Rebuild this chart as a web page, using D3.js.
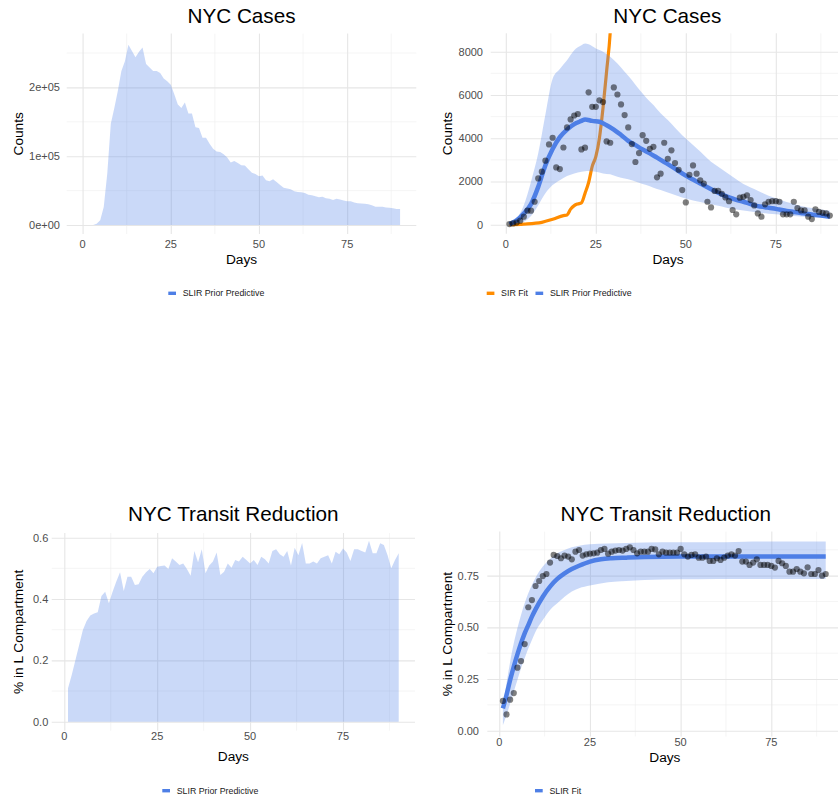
<!DOCTYPE html>
<html><head><meta charset="utf-8">
<script src="https://cdn.jsdelivr.net/npm/d3@7"></script>
<style>
body{margin:0;background:#fff}
svg{display:block}
text{font-family:"Liberation Sans",Arial,Helvetica,sans-serif}
</style>
</head><body>
<svg id="c" width="838" height="799"></svg>
<script>
// ---------------- DATA ----------------
const days = d3.range(1, 91);

// Top-left: NYC Cases prior predictive (upper envelope)
const casesPriorUpper = [0,0,0,2000,7000,26000,75000,147000,170000,195000,
 224000,238000,262000,253000,244000,252000,258000,234000,229000,224000,
 224000,221000,213000,209000,204000,190000,175000,170000,178000,162000,
 162000,142000,141000,127000,127000,118000,111000,107000,106000,103000,
 98000,91000,93000,90000,87000,86500,81000,76000,74000,71000,
 72000,65000,63500,66500,62500,58000,54000,53000,52000,49000,
 48000,47500,46600,43800,43300,41800,40400,40900,39000,38000,
 36500,38000,37000,35600,34600,34600,32700,31700,31300,30800,
 30300,28800,26400,26400,26400,25500,25000,24500,23100,23100];

// Top-right: observed cases
const casesObs = [30,60,100,185,370,650,650,1060,2140,2450,
 2960,3710,4020,2650,2570,3570,4500,4870,5050,5120,
 3480,3560,6120,5450,5450,5750,5670,3850,3790,6350,
 6020,5560,5070,4500,3730,2900,3310,4140,3880,3510,
 3600,2190,2360,3790,3050,3440,2850,2540,1600,1030,
 2310,2740,2360,2050,1900,1060,800,1560,1560,1430,
 1260,1090,680,480,1250,1290,1360,1140,890,520,
 370,940,1060,1090,1090,1060,480,480,480,1060,
 770,660,660,370,260,710,590,550,520,420];

const slirCaseDays = [1,3,5,7,9,11,13,15,17,19,21,22,24,26,28,30,32,34,36,38,40,42,44,46,48,50,52,54,56,58,60,62,64,66,68,70,72,74,76,78,80,82,84,86,88,90];
const slirCaseMed = [30,200,520,950,1750,2750,3500,4050,4400,4650,4800,4870,4800,4760,4600,4400,4150,3880,3680,3480,3300,3100,2900,2700,2480,2270,2090,1900,1730,1560,1400,1260,1150,1060,955,860,810,760,700,640,590,540,490,450,410,370];

const bandCaseDays = [1,3,5,7,9,11,13,15,17,19,21,22,23,25,27,29,31,33,35,37,39,41,43,45,47,49,51,53,55,57,59,61,63,65,67,69,71,73,75,77,79,81,83,85,87,90];
const bandCaseUpper = [30,290,900,1990,3300,5100,6750,7200,7600,8070,8300,8380,8340,8150,8000,7770,7460,7070,6690,6260,5870,5530,5150,4840,4480,4140,3840,3530,3220,2910,2680,2450,2220,1990,1800,1650,1490,1340,1220,1110,1000,910,830,770,710,650];
const bandCaseLower = [0,60,140,400,900,1450,1830,2060,2250,2370,2450,2470,2480,2450,2370,2330,2220,2140,2060,1940,1830,1710,1600,1490,1370,1260,1170,1090,1020,940,880,800,740,680,630,585,540,510,480,450,415,385,370,355,340,310];

const sirDays = [1,5,10,13,16,17,18,19,20,21,22,23,24,25,26,27,28,29,30];
const sirFit = [0,30,110,250,420,450,720,880,960,1010,1450,1950,2700,3150,4000,5400,7100,8900,12500];

// Bottom-left: transit prior predictive (upper envelope)
const transitPriorUpper = [0.109,0.152,0.201,0.25,0.299,0.328,0.346,0.353,0.357,0.41,
 0.424,0.386,0.424,0.457,0.487,0.426,0.473,0.473,0.446,0.448,
 0.473,0.487,0.498,0.484,0.505,0.508,0.509,0.498,0.533,0.522,
 0.511,0.516,0.498,0.476,0.557,0.52,0.562,0.484,0.509,0.522,
 0.552,0.478,0.489,0.516,0.502,0.527,0.522,0.538,0.527,0.516,
 0.527,0.511,0.538,0.53,0.516,0.557,0.562,0.546,0.538,0.557,
 0.509,0.567,0.543,0.583,0.516,0.516,0.522,0.516,0.533,0.538,
 0.543,0.516,0.554,0.546,0.565,0.552,0.524,0.562,0.562,0.557,
 0.552,0.59,0.549,0.549,0.582,0.576,0.543,0.5,0.527,0.549];

// Bottom-right: observed transit reduction
const transitObs = [0.144,0.079,0.15,0.182,0.305,0.337,0.419,0.597,0.632,0.7,
 0.724,0.748,0.758,0.813,0.85,0.845,0.834,0.847,0.842,0.829,
 0.866,0.874,0.847,0.853,0.856,0.858,0.861,0.874,0.879,0.856,
 0.866,0.871,0.874,0.871,0.879,0.887,0.874,0.858,0.866,0.866,
 0.866,0.879,0.877,0.853,0.866,0.861,0.861,0.861,0.861,0.879,
 0.853,0.842,0.85,0.853,0.837,0.837,0.842,0.821,0.821,0.834,
 0.826,0.837,0.847,0.853,0.847,0.869,0.818,0.818,0.802,0.813,
 0.829,0.802,0.802,0.802,0.797,0.789,0.821,0.81,0.797,0.769,
 0.769,0.782,0.769,0.761,0.79,0.758,0.758,0.777,0.75,0.758];

const slirTransitDays = [1,2,3,4,5,6,7,8,9,10,12,14,16,18,20,22,25,28,31,35,40,50,60,70,80,90];
const slirTransitFit = [0.108,0.173,0.245,0.31,0.369,0.423,0.471,0.511,0.552,0.587,0.648,0.697,0.734,0.761,0.782,0.798,0.818,0.829,0.834,0.837,0.84,0.842,0.842,0.842,0.842,0.842];

const bandTransitDays = [1,2,3,4,5,6,7,8,9,10,12,14,16,18,20,22,25,30,35,40,50,60,70,80,90];
const bandTransitUpper = [0.124,0.229,0.334,0.423,0.495,0.56,0.616,0.665,0.705,0.74,0.794,0.831,0.858,0.874,0.887,0.895,0.902,0.906,0.908,0.91,0.911,0.911,0.915,0.915,0.915];
const bandTransitLower = [0.027,0.076,0.132,0.189,0.245,0.302,0.35,0.398,0.439,0.479,0.535,0.584,0.616,0.648,0.673,0.689,0.702,0.718,0.724,0.729,0.732,0.734,0.734,0.734,0.734];

// Tick labels
const xTicks = [0,25,50,75];
const xMinor = [12.5,37.5,62.5,87.5];
const yTicksTL = [0,100000,200000];
const yTickLabelsTL = ["0e+00","1e+05","2e+05"];
const yMinorTL = [50000,150000,250000];
const yTicksTR = [0,2000,4000,6000,8000];
const yMinorTR = [1000,3000,5000,7000];
const yTicksBL = [0,0.2,0.4,0.6];
const yMinorBL = [0.1,0.3,0.5];
const yTicksBR = [0,0.25,0.5,0.75];
const yMinorBR = [0.125,0.375,0.625,0.875];

// ---------------- STYLE ----------------
const BLUE = "#4e7fe6";
const BAND = "#5082e8";
const ORANGE = "#ff8c00";
const svg = d3.select("#c");

function panel(cfg){
  const g = svg.append("g");
  const x = d3.scaleLinear().domain(cfg.xDom).range(cfg.xPx);
  const y = d3.scaleLinear().domain(cfg.yDom).range(cfg.yPx);
  const id = "clip" + cfg.id;
  svg.append("clipPath").attr("id", id).append("rect")
    .attr("x", cfg.xPx[0]).attr("y", cfg.yPx[1])
    .attr("width", cfg.xPx[1]-cfg.xPx[0]).attr("height", cfg.yPx[0]-cfg.yPx[1]);
  const grid = g.append("g");
  // minor
  grid.selectAll(".mx").data(xMinor).join("line")
    .attr("x1", d=>x(d)).attr("x2", d=>x(d)).attr("y1", cfg.yPx[0]).attr("y2", cfg.yPx[1])
    .attr("stroke", "#efefef").attr("stroke-width", 0.6);
  grid.selectAll(".my").data(cfg.yMinor).join("line")
    .attr("y1", d=>y(d)).attr("y2", d=>y(d)).attr("x1", cfg.xPx[0]).attr("x2", cfg.xPx[1])
    .attr("stroke", "#efefef").attr("stroke-width", 0.6);
  // major via axes
  const gx = grid.append("g").attr("transform", `translate(0,${cfg.yPx[0]})`)
    .call(d3.axisBottom(x).tickValues(xTicks).tickSize(-(cfg.yPx[0]-cfg.yPx[1])).tickFormat(""));
  const gy = grid.append("g").attr("transform", `translate(${cfg.xPx[0]},0)`)
    .call(d3.axisLeft(y).tickValues(cfg.yTicks).tickSize(-(cfg.xPx[1]-cfg.xPx[0])).tickFormat(""));
  [gx, gy].forEach(a => {
    a.select(".domain").remove();
    a.selectAll("line").attr("stroke", "#e6e6e6").attr("stroke-width", 1.1);
  });
  const layer = g.append("g").attr("clip-path", `url(#${id})`);
  cfg.draw(layer, x, y);
  // tick labels
  g.selectAll(".xl").data(xTicks).join("text")
    .attr("x", d=>x(d)).attr("y", cfg.xLabY).attr("text-anchor", "middle")
    .attr("font-size", 11).attr("fill", "#4d4d4d").text(d=>d);
  g.selectAll(".yl").data(cfg.yTicks).join("text")
    .attr("x", cfg.yLabX).attr("y", d=>y(d)).attr("dy", "0.36em").attr("text-anchor", "end")
    .attr("font-size", 11).attr("fill", "#4d4d4d").text((d,i)=>cfg.yLabels[i]);
  // axis titles
  g.append("text").attr("x", (cfg.xPx[0]+cfg.xPx[1])/2).attr("y", cfg.xTitleY)
    .attr("text-anchor", "middle").attr("font-size", 13.7).attr("fill", "#000").text("Days");
  g.append("text").attr("transform", `translate(${cfg.yTitleX},${(cfg.yPx[0]+cfg.yPx[1])/2}) rotate(-90)`)
    .attr("text-anchor", "middle").attr("font-size", 13.7).attr("fill", "#000").text(cfg.yTitle);
  g.append("text").attr("x", cfg.titleX).attr("y", cfg.titleY)
    .attr("text-anchor", "middle").attr("font-size", 20.7).attr("fill", "#000").text(cfg.title);
  // legend
  let lx = cfg.legX;
  cfg.legend.forEach(it => {
    g.append("rect").attr("x", lx).attr("y", cfg.legY-1.7).attr("width", 7.7).attr("height", 3.4).attr("fill", it.color);
    const t = g.append("text").attr("x", lx+14.4).attr("y", cfg.legY).attr("dy","0.35em")
      .attr("font-size", 8.8).attr("fill", "#1a1a1a").text(it.label);
    lx += 14.4 + t.node().getComputedTextLength() + 7.5;
  });
}

function areaFill(layer, xs, ys, x, y){
  layer.append("path").datum(xs.map((d,i)=>[d, ys[i]]))
    .attr("d", d3.area().x(d=>x(d[0])).y0(y(0)).y1(d=>y(d[1])))
    .attr("fill", BAND).attr("fill-opacity", 0.3);
}
function band(layer, xs, lo, hi, x, y){
  layer.append("path").datum(xs.map((d,i)=>[d, lo[i], hi[i]]))
    .attr("d", d3.area().curve(d3.curveMonotoneX).x(d=>x(d[0])).y0(d=>y(d[1])).y1(d=>y(d[2])))
    .attr("fill", BAND).attr("fill-opacity", 0.3);
}
function line(layer, xs, ys, x, y, color, w, curve){
  layer.append("path").datum(xs.map((d,i)=>[d, ys[i]]))
    .attr("d", d3.line().curve(curve || d3.curveLinear).x(d=>x(d[0])).y(d=>y(d[1])))
    .attr("fill", "none").attr("stroke", color).attr("stroke-width", w)
    .attr("stroke-linejoin", "round");
}
function points(layer, xs, ys, x, y){
  layer.selectAll(null).data(xs.map((d,i)=>[d, ys[i]])).join("circle")
    .attr("cx", d=>x(d[0])).attr("cy", d=>y(d[1])).attr("r", 3.1)
    .attr("fill", "#000").attr("fill-opacity", 0.5);
}

// Top-left
panel({id:"tl", xDom:[-4.5,94.6], xPx:[66.7,416.3], yDom:[-13080,278200], yPx:[234,33.6],
  yTicks:yTicksTL, yLabels:yTickLabelsTL, yMinor:yMinorTL,
  xLabY:248.3, yLabX:60, xTitleY:264, yTitleX:23, yTitle:"Counts",
  title:"NYC Cases", titleX:241.5, titleY:23.3,
  legX:168.3, legY:293.3, legend:[{color:BLUE,label:"SLIR Prior Predictive"}],
  draw:(l,x,y)=>{ areaFill(l, days, casesPriorUpper, x, y); }});

// Top-right
panel({id:"tr", xDom:[-4.2,94.3], xPx:[490.7,845.3], yDom:[-421,8851], yPx:[233.8,33.3],
  yTicks:yTicksTR, yLabels:yTicksTR.map(String), yMinor:yMinorTR,
  xLabY:248.3, yLabX:483, xTitleY:264, yTitleX:452, yTitle:"Counts",
  title:"NYC Cases", titleX:667.3, titleY:23.3,
  legX:486.7, legY:293.3, legend:[{color:ORANGE,label:"SIR Fit"},{color:BLUE,label:"SLIR Prior Predictive"}],
  draw:(l,x,y)=>{
    line(l, sirDays, sirFit, x, y, ORANGE, 3.2, d3.curveMonotoneX);
    band(l, bandCaseDays, bandCaseLower, bandCaseUpper, x, y);
    line(l, slirCaseDays, slirCaseMed, x, y, BLUE, 4.5, d3.curveMonotoneX);
    points(l, days, casesObs, x, y);
  }});

// Bottom-left
panel({id:"bl", xDom:[-3.39,94.38], xPx:[51.7,415], yDom:[-0.0293,0.6153], yPx:[730.7,533],
  yTicks:yTicksBL, yLabels:yTicksBL.map(d=>d.toFixed(1)), yMinor:yMinorBL,
  xLabY:739.5, yLabX:48.3, xTitleY:760.5, yTitleX:23, yTitle:"% in L Compartment",
  title:"NYC Transit Reduction", titleX:233.3, titleY:521,
  legX:162.3, legY:790.7, legend:[{color:BLUE,label:"SLIR Prior Predictive"}],
  draw:(l,x,y)=>{ areaFill(l, days, transitPriorUpper, x, y); }});

// Bottom-right
panel({id:"br", xDom:[-3.3,94.6], xPx:[487.3,842.4], yDom:[-0.028,0.963], yPx:[736.5,531.6],
  yTicks:yTicksBR, yLabels:yTicksBR.map(d=>d.toFixed(2)), yMinor:yMinorBR,
  xLabY:745.5, yLabX:479, xTitleY:761.5, yTitleX:452, yTitle:"% in L Compartment",
  title:"NYC Transit Reduction", titleX:665.7, titleY:521,
  legX:535, legY:790.7, legend:[{color:BLUE,label:"SLIR Fit"}],
  draw:(l,x,y)=>{
    band(l, bandTransitDays, bandTransitLower, bandTransitUpper, x, y);
    line(l, slirTransitDays, slirTransitFit, x, y, BLUE, 4.5, d3.curveMonotoneX);
    points(l, days, transitObs, x, y);
  }});
</script>
</body></html>
